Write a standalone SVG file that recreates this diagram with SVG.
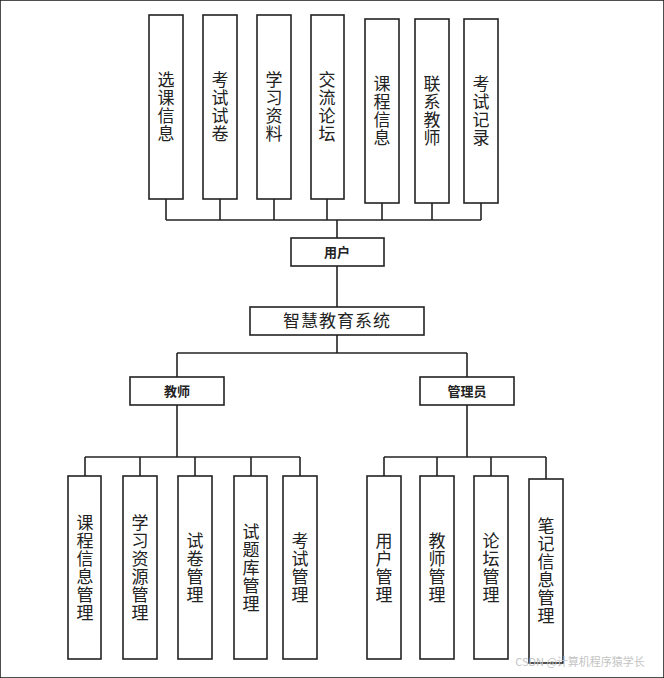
<svg xmlns="http://www.w3.org/2000/svg" width="664" height="678" viewBox="0 0 664 678">
<style>
rect{fill:#fff;stroke:#222;stroke-width:1.6}
.c line{stroke:#222;stroke-width:1.6}
text{font-family:"Noto Sans CJK SC",sans-serif;fill:#222;text-anchor:middle}
.v{font-size:17px;writing-mode:vertical-rl;dominant-baseline:central;letter-spacing:1px}
.b{font-size:13px;font-weight:bold}
</style>
<rect width="664" height="678" fill="#fff" stroke="none"/>
<g class="c">
<line x1="166" y1="199" x2="166" y2="220"/><line x1="220" y1="199" x2="220" y2="220"/><line x1="274" y1="199" x2="274" y2="220"/><line x1="327" y1="199" x2="327" y2="220"/><line x1="382" y1="203" x2="382" y2="220"/><line x1="432" y1="203" x2="432" y2="220"/><line x1="481" y1="203" x2="481" y2="220"/>
<line x1="166" y1="220" x2="481" y2="220"/><line x1="337" y1="220" x2="337" y2="238"/>
<line x1="337" y1="266" x2="337" y2="307"/><line x1="337" y1="335" x2="337" y2="353"/>
<line x1="177" y1="353" x2="467" y2="353"/><line x1="177" y1="353" x2="177" y2="377"/><line x1="467" y1="353" x2="467" y2="377"/>
<line x1="177" y1="405" x2="177" y2="457"/><line x1="467" y1="405" x2="467" y2="457"/>
<line x1="85" y1="457" x2="300" y2="457"/><line x1="384" y1="457" x2="546" y2="457"/>
<line x1="85" y1="457" x2="85" y2="476"/><line x1="140" y1="457" x2="140" y2="476"/><line x1="195" y1="457" x2="195" y2="476"/><line x1="251" y1="457" x2="251" y2="476"/><line x1="300" y1="457" x2="300" y2="476"/>
<line x1="384" y1="457" x2="384" y2="476"/><line x1="437" y1="457" x2="437" y2="476"/><line x1="491" y1="457" x2="491" y2="476"/><line x1="546" y1="457" x2="546" y2="479"/>
</g>
<g id="n1"><rect x="149" y="15" width="34" height="184"/><text class="v" x="166" y="107">选课信息</text></g>
<g id="n2"><rect x="203" y="15" width="34" height="184"/><text class="v" x="220" y="107">考试试卷</text></g>
<g id="n3"><rect x="257" y="15" width="34" height="184"/><text class="v" x="274" y="107">学习资料</text></g>
<g id="n4"><rect x="311" y="15" width="33" height="184"/><text class="v" x="327" y="107">交流论坛</text></g>
<g id="n5"><rect x="365" y="19" width="34" height="184"/><text class="v" x="382" y="111">课程信息</text></g>
<g id="n6"><rect x="415" y="19" width="34" height="184"/><text class="v" x="432" y="111">联系教师</text></g>
<g id="n7"><rect x="464" y="19" width="34" height="184"/><text class="v" x="481" y="111">考试记录</text></g>
<g id="user"><rect x="291" y="238" width="93" height="28"/><text class="b" x="337" y="257">用户</text></g>
<g id="sys"><rect x="250" y="307" width="174" height="28"/><text x="337" y="327" font-size="17" letter-spacing="1">智慧教育系统</text></g>
<g id="teacher"><rect x="130" y="377" width="94" height="28"/><text class="b" x="177" y="396">教师</text></g>
<g id="admin"><rect x="420" y="377" width="94" height="28"/><text class="b" x="467" y="396">管理员</text></g>
<g id="t1"><rect x="68" y="476" width="33" height="183"/><text class="v" x="85" y="568">课程信息管理</text></g>
<g id="t2"><rect x="123" y="476" width="34" height="183"/><text class="v" x="140" y="568">学习资源管理</text></g>
<g id="t3"><rect x="178" y="476" width="34" height="183"/><text class="v" x="195" y="568">试卷管理</text></g>
<g id="t4"><rect x="234" y="476" width="33" height="183"/><text class="v" x="251" y="568">试题库管理</text></g>
<g id="t5"><rect x="283" y="476" width="34" height="183"/><text class="v" x="300" y="568">考试管理</text></g>
<g id="a1"><rect x="367" y="476" width="34" height="183"/><text class="v" x="384" y="568">用户管理</text></g>
<g id="a2"><rect x="420" y="476" width="34" height="183"/><text class="v" x="437" y="568">教师管理</text></g>
<g id="a3"><rect x="474" y="476" width="34" height="183"/><text class="v" x="491" y="568">论坛管理</text></g>
<g id="a4"><rect x="529" y="479" width="34" height="184"/><text class="v" x="546" y="571">笔记信息管理</text></g>
<text x="580" y="666" font-size="11" fill="#bbb" style="fill:#c4c4c4">CSDN @计算机程序猿学长</text>
</svg>
